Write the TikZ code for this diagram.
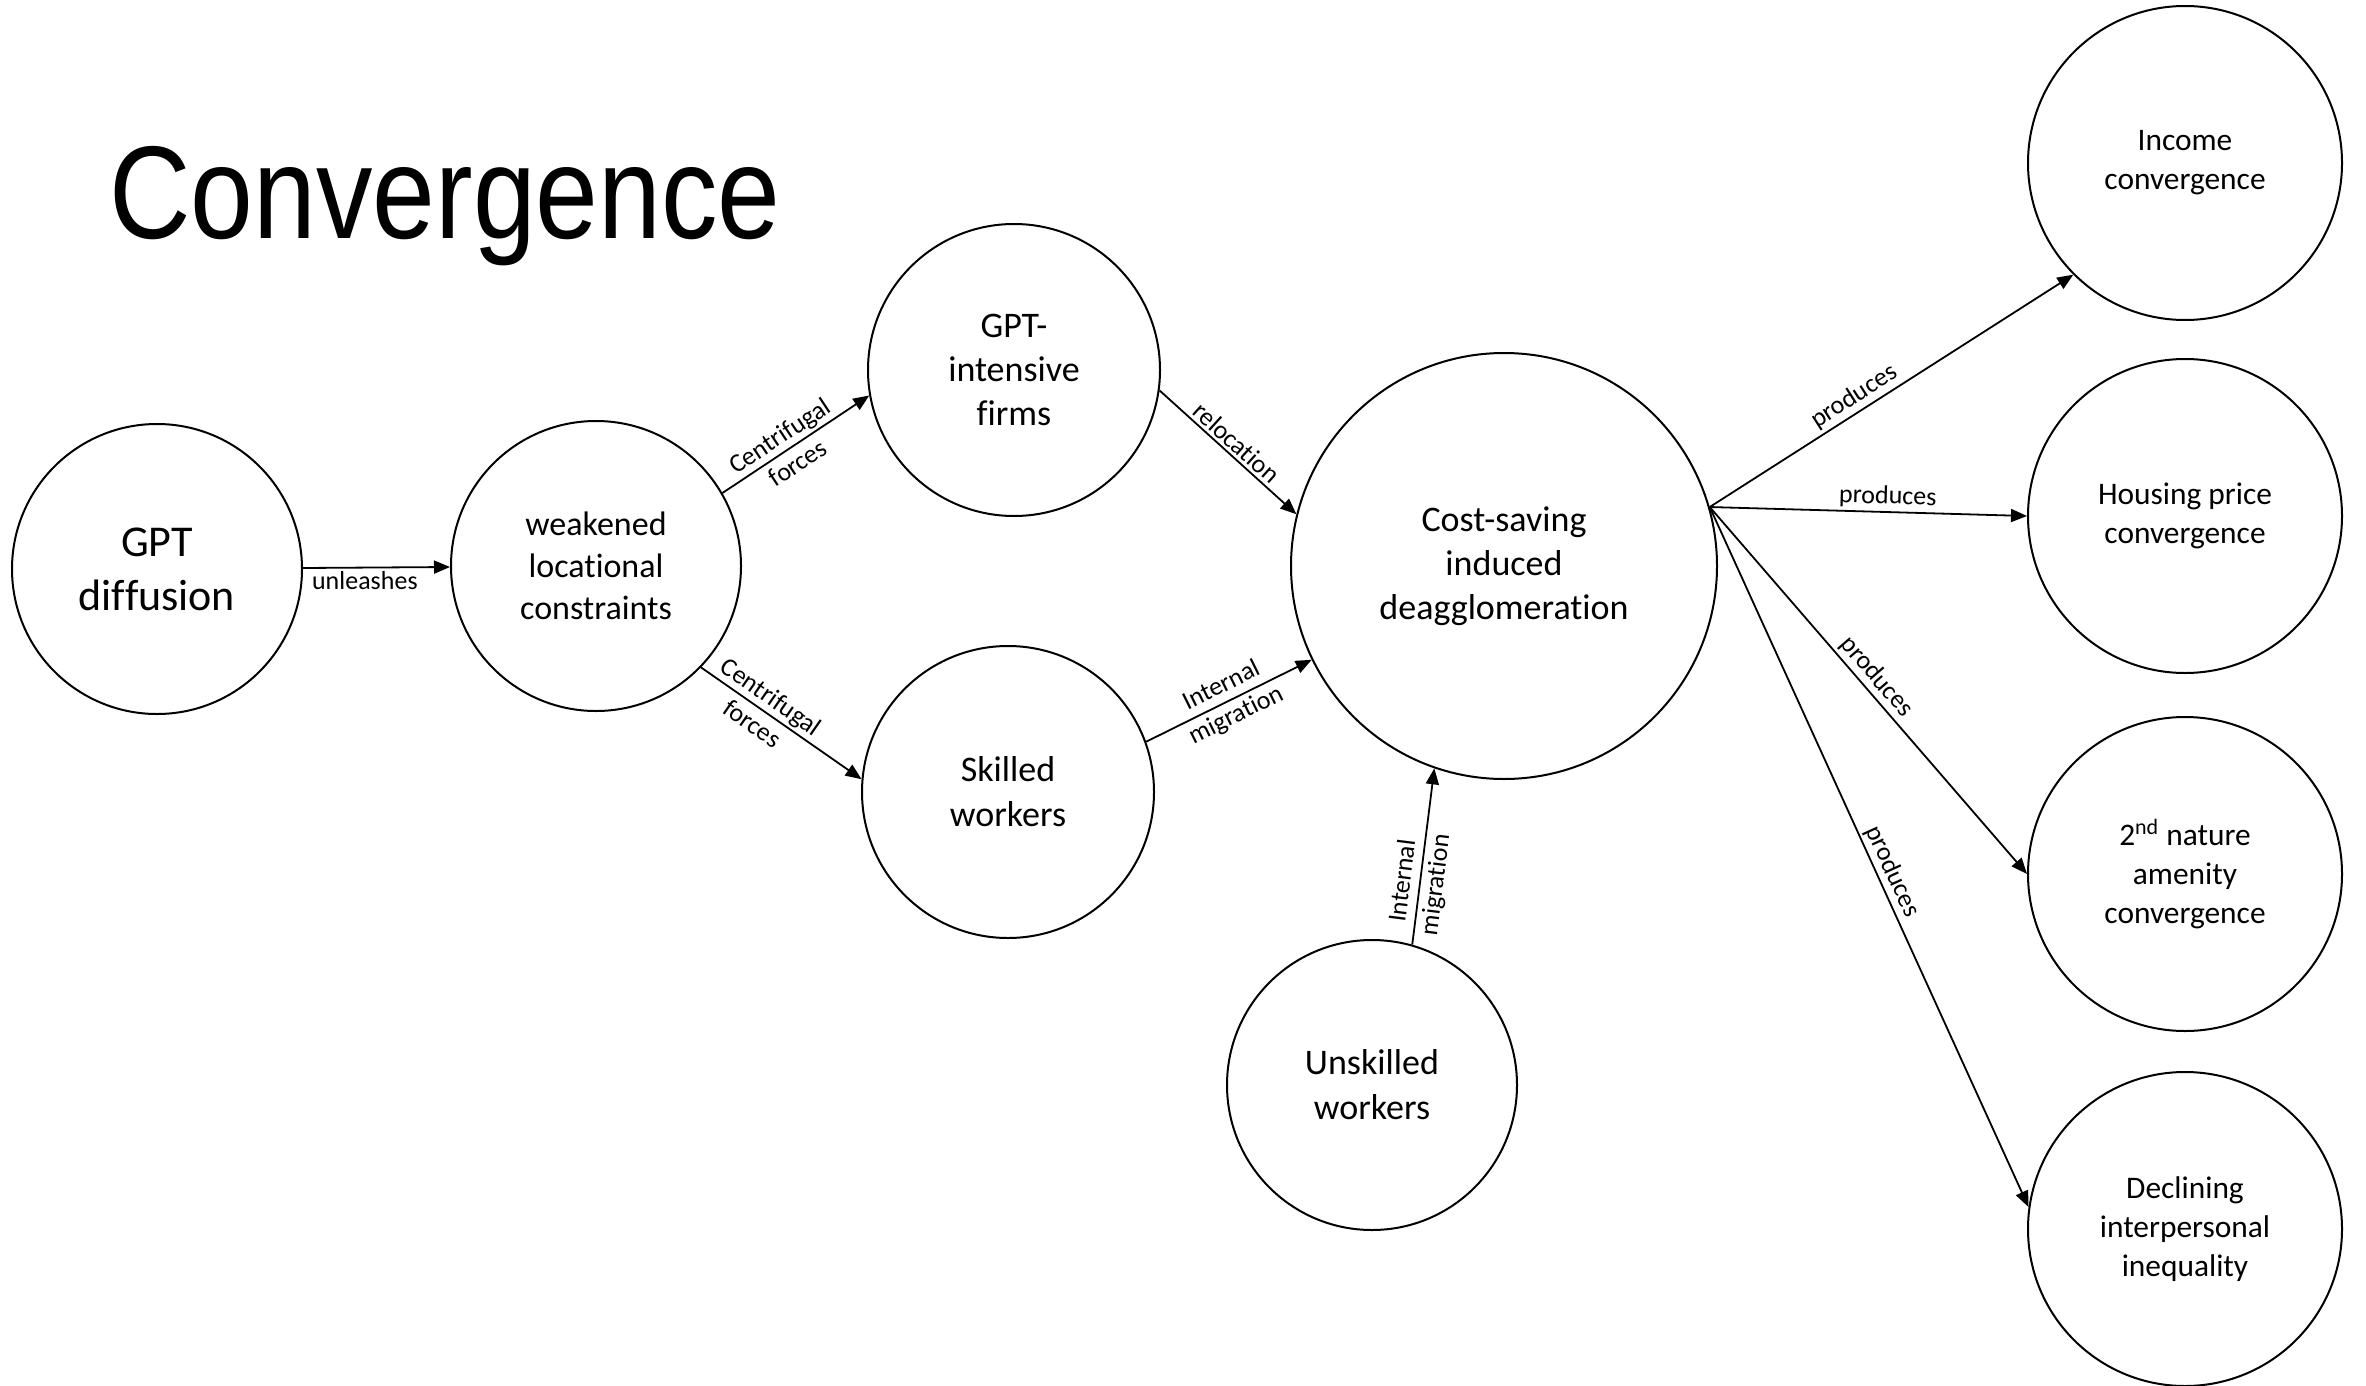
\documentclass[tikz,border=0pt]{standalone}
\usepackage{fontspec}
\setmainfont{Carlito}[Ligatures=NoCommon]
\newfontfamily\titlefont{Liberation Sans}
\usetikzlibrary{arrows.meta}
\begin{document}
\begin{tikzpicture}[x=0.5pt,y=-0.5pt,
  circ/.style={draw, circle, line width=1pt, inner sep=0pt, align=center},
  small/.style={circ, minimum size=145pt},
  mid/.style={circ, minimum size=146pt},
  big/.style={circ, minimum size=213pt},
  right/.style={circ, minimum size=157pt, font=\fontsize{15.7}{19.5}\selectfont},
  arr/.style={-{Triangle[length=8pt,width=6.5pt]}, line width=0.9pt},
  lab/.style={font=\fontsize{13}{16.5}\selectfont, sloped, align=center, inner sep=1.5pt}]
\useasboundingbox (0,0) rectangle (2366,1386);

\node[anchor=base west, inner sep=0pt] (title) at (109,238)
  {\titlefont\fontsize{66}{70}\selectfont\scalebox{0.855}[1]{Convergence}};

\node[small, font=\fontsize{22}{27}\selectfont] (gpt) at (157,569) {GPT\\diffusion};
\node[small, font=\fontsize{17}{21}\selectfont] (weak) at (596,566) {weakened\\locational\\constraints};
\node[mid, font=\fontsize{18}{22}\selectfont] (firms) at (1014,370) {GPT-\\intensive\\firms};
\node[mid, font=\fontsize{18}{22.5}\selectfont] (skilled) at (1008,792) {Skilled\\workers};
\node[big, font=\fontsize{18}{22}\selectfont] (cost) at (1504,566) {Cost-saving\\induced\\deagglomeration};
\node[small, font=\fontsize{18}{22.5}\selectfont] (unsk) at (1372,1085) {Unskilled\\workers};

\node[right] (income) at (2185,163) {Income\\convergence};
\node[right] (housing) at (2185,516) {Housing price\\convergence};
\node[right] (nature) at (2185,874) {2\textsuperscript{nd} nature\\amenity\\convergence};
\node[right] (decl) at (2185,1229) {Declining\\interpersonal\\inequality};

\draw[arr] (gpt) -- node[lab, below, pos=0.42] {unleashes} (weak);
\draw[arr] (weak.30) -- node[lab, pos=0.45] {Centrifugal\\forces} (firms.190);
\draw[arr] (weak.-44) -- node[lab, pos=0.38] {Centrifugal\\forces} (skilled.175);
\draw[arr] (firms.-8) -- node[lab, above, pos=0.5] {relocation} (cost.166);
\draw[arr] (skilled.20) -- node[lab, pos=0.5] {Internal\\migration} (cost.206);
\draw[arr] (unsk.74) -- node[lab, pos=0.35] {Internal\\migration} (cost.251);

\coordinate (src) at (cost.16.5);
\draw[arr] (src) -- node[lab, above, pos=0.42] {produces} (income.225);
\draw[arr] (src) -- node[lab, above, pos=0.56] {produces} (housing.180);
\draw[arr] (src) -- node[lab, above, pos=0.49] {produces} (nature.180);
\draw[arr] (src) -- node[lab, above, pos=0.53] {produces} (decl.172);
\end{tikzpicture}
\end{document}
